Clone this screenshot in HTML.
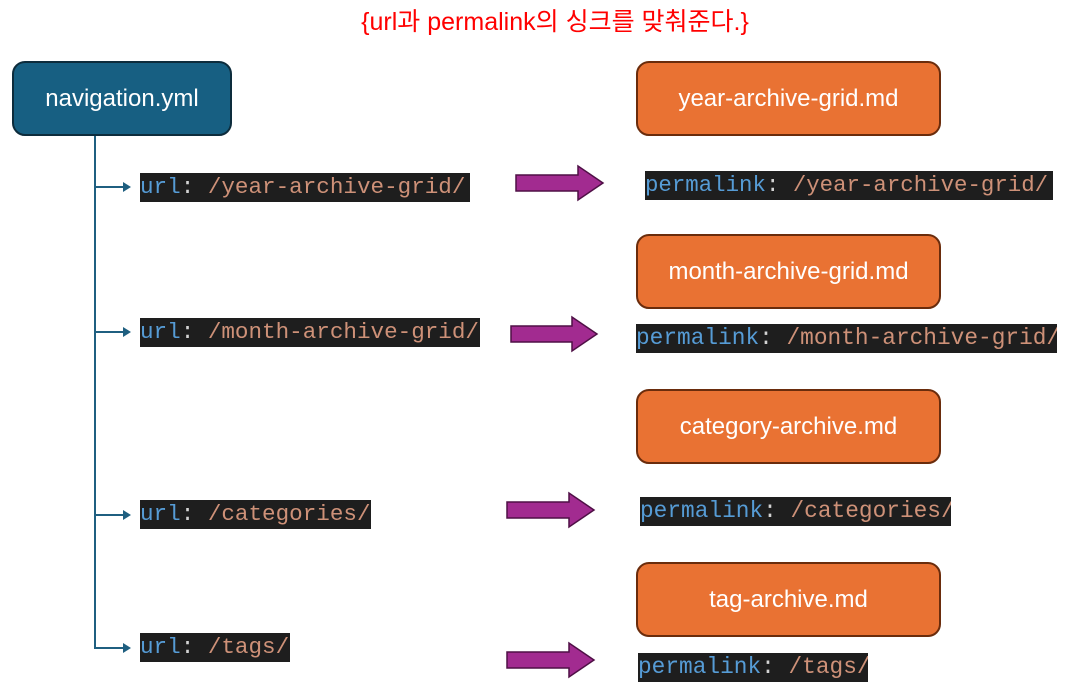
<!DOCTYPE html>
<html><head><meta charset="utf-8"><style>
body{margin:0;width:1069px;height:699px;background:#fff;position:relative;overflow:hidden;font-family:"Liberation Sans","Noto Sans CJK KR",sans-serif}
.t{position:absolute;left:0;width:1110px;text-align:center;top:2px;color:#f00;font-size:25px}
.box{position:absolute;border-radius:13px;color:#fff;font-size:24px;display:flex;align-items:center;justify-content:center;box-sizing:border-box}
.nav{left:12px;top:61px;width:220px;height:75px;background:#175f82;border:2px solid #0d2c3c}
.or{left:636px;width:305px;height:75px;background:#e97233;border:2px solid #6a2c0c}
.c{position:absolute;background:#1e1e1e;font-family:"Liberation Mono",monospace;font-size:22px;line-height:29px;height:29px;white-space:pre;color:#ce9178;overflow:hidden}
.k{color:#569cd6}.p{color:#d4d4d4}
svg{position:absolute;left:0;top:0}
</style></head><body>
<div class="t">{url과 permalink의 싱크를 맞춰준다.}</div>
<div class="box nav">navigation.yml</div>
<div class="box or" style="top:61px">year-archive-grid.md</div>
<div class="box or" style="top:234px">month-archive-grid.md</div>
<div class="box or" style="top:389px">category-archive.md</div>
<div class="box or" style="top:562px">tag-archive.md</div>
<svg width="1069" height="699">
<g stroke="#1f5f80" stroke-width="2" fill="none">
<line x1="95" y1="136" x2="95" y2="649"/>
<line x1="95" y1="187" x2="125" y2="187"/>
<line x1="95" y1="332" x2="125" y2="332"/>
<line x1="95" y1="515" x2="125" y2="515"/>
<line x1="95" y1="648" x2="125" y2="648"/>
</g>
<g fill="#1f5f80">
<polygon points="123,182 131,187 123,192"/>
<polygon points="123,327 131,332 123,337"/>
<polygon points="123,510 131,515 123,520"/>
<polygon points="123,643 131,648 123,653"/>
</g>
<g fill="#a22b90" stroke="#4f1046" stroke-width="1.5">
<polygon points="516,175 578,175 578,166 603,183 578,200 578,191 516,191"/>
<polygon points="511,326 572,326 572,317 597,334 572,351 572,342 511,342"/>
<polygon points="507,502 569,502 569,493 594,510 569,527 569,518 507,518"/>
<polygon points="507,652 569,652 569,643 594,660 569,677 569,668 507,668"/>
</g>
</svg>
<div class="c" style="left:140px;top:173px;width:330px;font-size:22.6px"><span class="k">url</span><span class="p">: </span>/year-archive-grid/</div>
<div class="c" style="left:140px;top:318px;width:340px;font-size:22.6px"><span class="k">url</span><span class="p">: </span>/month-archive-grid/</div>
<div class="c" style="left:140px;top:500px;width:231px;font-size:22.6px"><span class="k">url</span><span class="p">: </span>/categories/</div>
<div class="c" style="left:140px;top:633px;width:150px;font-size:22.6px"><span class="k">url</span><span class="p">: </span>/tags/</div>
<div class="c" style="left:645px;top:171px;width:408px;font-size:22.4px"><span class="k">permalink</span><span class="p">: </span>/year-archive-grid/</div>
<div class="c" style="left:636px;top:324px;width:421px;font-size:22.8px"><span class="k">permalink</span><span class="p">: </span>/month-archive-grid/</div>
<div class="c" style="left:640px;top:497px;width:311px;font-size:22.8px"><span class="k">permalink</span><span class="p">: </span>/categories/</div>
<div class="c" style="left:638px;top:653px;width:230px;font-size:22.8px"><span class="k">permalink</span><span class="p">: </span>/tags/</div>
</body></html>
